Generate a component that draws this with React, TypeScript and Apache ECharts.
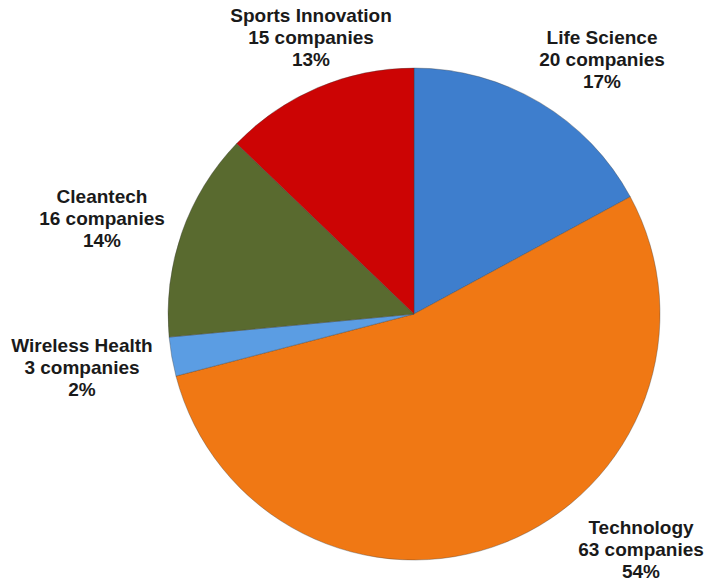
import React, { useEffect, useRef } from "react";
import * as echarts from "echarts";

const categories = ["Life Science", "Technology", "Wireless Health", "Cleantech", "Sports Innovation"];
const companies = [20, 63, 3, 16, 15];
const pctLabels = [17, 54, 2, 14, 13];
const colors = ["#3e7ecd", "#f07814", "#5b9de3", "#596a2f", "#cc0404"];
const labelPos: [number, number][] = [
  [602, 59],
  [641, 549],
  [82, 367],
  [102, 218],
  [311, 37],
];

export default function App() {
  const ref = useRef<HTMLDivElement>(null);
  useEffect(() => {
    if (!ref.current) return;
    const chart = echarts.init(ref.current, null, { renderer: "svg" });
    chart.setOption({
      animation: false,
      backgroundColor: "#ffffff",
      series: [
        {
          type: "pie",
          center: [414, 314],
          radius: 246,
          startAngle: 90,
          clockwise: true,
          avoidLabelOverlap: false,
          data: categories.map((name, i) => ({
            name,
            value: companies[i],
            itemStyle: { color: colors[i] },
          })),
          itemStyle: { borderColor: "rgba(60,60,60,0.35)", borderWidth: 1 },
          label: {
            show: true,
            position: "outside",
            formatter: (p: any) => `${p.name}\n${p.value} companies\n${pctLabels[p.dataIndex]}%`,
            fontFamily: "Liberation Sans, Arial, sans-serif",
            fontWeight: "bold",
            fontSize: 19,
            lineHeight: 22,
            color: "#1a1a1a",
            align: "center",
          },
          labelLine: { show: false },
          labelLayout: (params: any) => ({
            x: labelPos[params.dataIndex][0],
            y: labelPos[params.dataIndex][1],
            align: "center",
            verticalAlign: "middle",
          }),
        },
      ],
    });
    return () => chart.dispose();
  }, []);
  return (
    <div
      ref={ref}
      style={{ position: "absolute", left: 0, top: 0, width: 705, height: 580 }}
    />
  );
}
